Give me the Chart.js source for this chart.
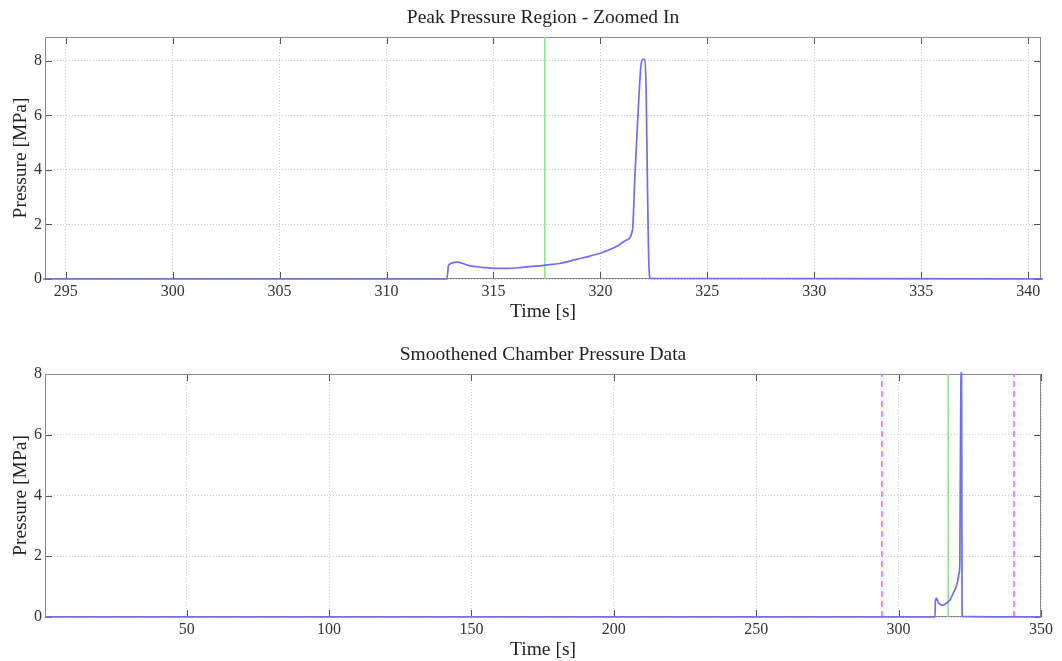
<!DOCTYPE html>
<html>
<head>
<meta charset="utf-8">
<title>Chamber Pressure</title>
<script src="https://cdn.jsdelivr.net/npm/chart.js@4.4.0/dist/chart.umd.min.js"></script>
<style>
  body { margin: 0; background: #fff; }
  .plot { position: absolute; left: 0; }
</style>
</head>
<body>
<canvas id="zoomChart" class="plot" width="1062" height="330" style="top:0"></canvas>
<canvas id="fullChart" class="plot" width="1062" height="331" style="top:330px"></canvas>
<script>
// Smoothened chamber pressure trace
const timeSec = [0.25, 312.82, 312.9, 313.31, 313.86, 314.48, 315.11, 315.74, 316.36, 316.99,
  317.46, 318.09, 318.87, 319.5, 320.12, 320.75, 321.22, 321.5, 321.61, 321.76, 321.89,
  321.97, 322.08, 322.14, 322.2, 322.27, 322.34, 350];
const pressureMPa = [0, 0, 0.51, 0.62, 0.49, 0.43, 0.39, 0.39, 0.43, 0.47,
  0.51, 0.57, 0.72, 0.84, 0.98, 1.19, 1.43, 1.80, 3.75, 6.08, 7.79,
  8.06, 8.06, 6.81, 3.39, 0.45, 0.02, 0];

// marker lines
const markerTime = [317.4];           // green
const windowTimes = [294.1, 340.5];   // magenta dashed, bounds of the zoomed view

// axis limits / ticks
const zoomTimeRange = [294.03, 340.6];
const fullTimeRange = [0.25, 350];
const zoomPressureMax = 8.88;
const fullPressureMax = 8;
const zoomTimeTicks = [295, 300, 305, 310, 315, 320, 325, 330, 335, 340];
const fullTimeTicks = [50, 100, 150, 200, 250, 300, 350];
const pressureTicks = [0, 2, 4, 6, 8];

const serif = "'Liberation Serif', 'Times New Roman', serif";

// MATLAB-like box with inward tick marks, drawn under the data
const framePlugin = {
  id: 'frame',
  beforeDatasetsDraw(chart) {
    const { ctx, chartArea: a, scales: { x, y } } = chart;
    ctx.save();
    ctx.lineWidth = 1;
    ctx.strokeStyle = '#555';
    ctx.beginPath();
    x.ticks.forEach(t => {
      const px = Math.round(x.getPixelForValue(t.value)) + 0.5;
      ctx.moveTo(px, a.top); ctx.lineTo(px, a.top + 7);
      ctx.moveTo(px, a.bottom); ctx.lineTo(px, a.bottom - 7);
    });
    y.ticks.forEach(t => {
      const py = Math.round(y.getPixelForValue(t.value)) + 0.5;
      ctx.moveTo(a.left, py); ctx.lineTo(a.left + 7, py);
      ctx.moveTo(a.right, py); ctx.lineTo(a.right - 7, py);
    });
    ctx.stroke();
    ctx.strokeStyle = '#8a8a8a';
    ctx.strokeRect(a.left + 0.5, a.top + 0.5, a.width - 1, a.height - 1);
    ctx.restore();
  }
};

function vline(t, yMax, color, dash) {
  return {
    data: [{ x: t, y: 0 }, { x: t, y: yMax }],
    borderColor: color,
    borderWidth: 1.5,
    borderDash: dash || [],
    pointRadius: 0
  };
}

function setTicks(values) {
  return axis => { axis.ticks = values.map(v => ({ value: v })); };
}

function makeChart(id, title, range, xTicks, yMax, extraLines, titlePad, bottomPad) {
  const trace = timeSec.map((t, i) => ({ x: t, y: pressureMPa[i] }));
  return new Chart(document.getElementById(id), {
    type: 'line',
    data: {
      datasets: [
        { data: trace, borderColor: '#6f6fe6', borderWidth: 1.7, pointRadius: 0,
          cubicInterpolationMode: 'monotone', clip: 2 },
        ...extraLines
      ]
    },
    plugins: [framePlugin],
    options: {
      responsive: false,
      animation: false,
      devicePixelRatio: 1,
      layout: { padding: { left: 0, right: 21, top: 0, bottom: bottomPad } },
      plugins: {
        legend: { display: false },
        tooltip: { enabled: false },
        title: {
          display: true,
          text: title,
          fullSize: false,
          color: '#222',
          font: { family: serif, size: 19.5, weight: 'normal', lineHeight: 1 },
          padding: titlePad
        }
      },
      scales: {
        x: {
          type: 'linear',
          min: range[0],
          max: range[1],
          afterBuildTicks: setTicks(xTicks),
          afterFit: s => { s.height = 44; },
          ticks: { padding: 5, maxRotation: 0, autoSkip: false,
            color: '#333', font: { family: serif, size: 16, lineHeight: 1 } },
          grid: { color: '#cccccc', drawTicks: false },
          border: { display: false, dash: [1, 2] },
          title: { display: true, text: 'Time [s]', color: '#222', padding: { top: 0, bottom: 1 },
            font: { family: serif, size: 19.5, lineHeight: 1 } }
        },
        y: {
          min: 0,
          max: yMax,
          afterBuildTicks: setTicks(pressureTicks),
          afterFit: s => { s.width = 45; },
          ticks: { padding: 3, color: '#333', font: { family: serif, size: 16, lineHeight: 1 } },
          grid: { color: '#cccccc', drawTicks: false },
          border: { display: false, dash: [1, 2] },
          title: { display: true, text: 'Pressure [MPa]', color: '#222', padding: { top: 11, bottom: 0 },
            font: { family: serif, size: 19.5, lineHeight: 1 } }
        }
      }
    }
  });
}

makeChart('zoomChart', 'Peak Pressure Region - Zoomed In', zoomTimeRange, zoomTimeTicks, zoomPressureMax,
  [vline(markerTime[0], zoomPressureMax, '#8ee08e')],
  { top: 8, bottom: 9.5 }, 7);

makeChart('fullChart', 'Smoothened Chamber Pressure Data', fullTimeRange, fullTimeTicks, fullPressureMax,
  [vline(markerTime[0], fullPressureMax, '#8ee08e'),
   vline(windowTimes[0], fullPressureMax, '#ff5cff', [6, 4]),
   vline(windowTimes[1], fullPressureMax, '#ff5cff', [6, 4])],
  { top: 15, bottom: 9.5 }, 0);
</script>
</body>
</html>
